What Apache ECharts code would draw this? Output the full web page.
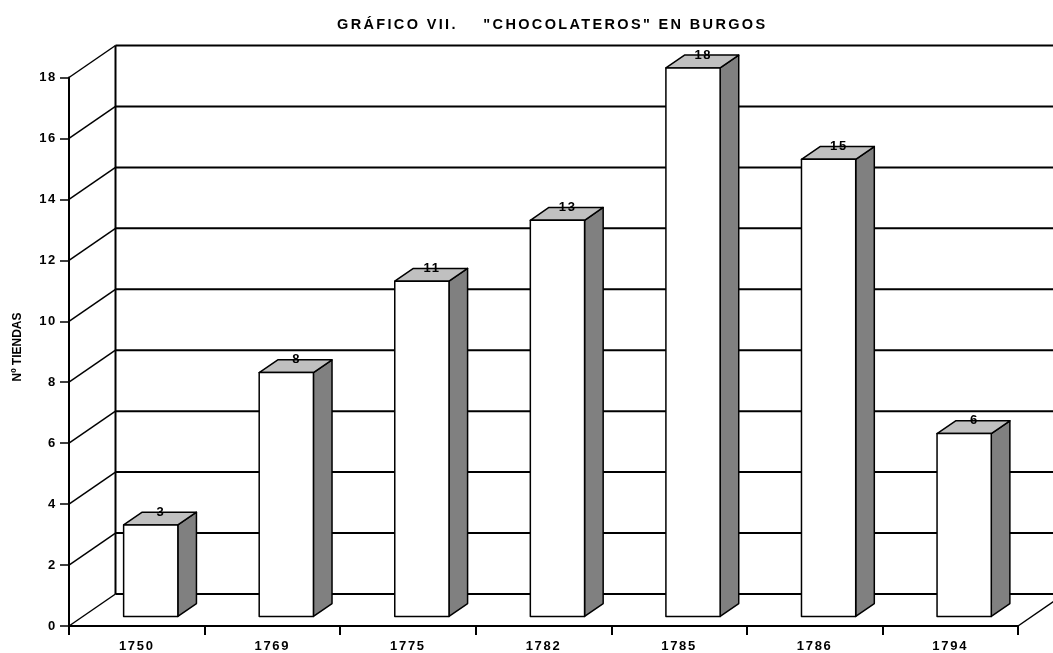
<!DOCTYPE html>
<html>
<head>
<meta charset="utf-8">
<script src="https://cdn.jsdelivr.net/npm/echarts@6/dist/echarts.min.js"></script>
<style>
  html, body { margin: 0; padding: 0; background: #fff; }
  #chart { width: 1053px; height: 653px; }
</style>
</head>
<body>
<div id="chart"></div>
<script>
// Chocolate makers' shops in Burgos, by year
const years = ['1750', '1769', '1775', '1782', '1785', '1786', '1794'];
const shops = [3, 8, 11, 13, 18, 15, 6];
const yTicks = [0, 2, 4, 6, 8, 10, 12, 14, 16, 18];

// Wide-tracked labels: extra letter spacing (px) by font size.
// Text whose family list ends in sans-serif is drawn with normal tracking.
const SPACED = 'Liberation Sans';
const PLAIN = 'Liberation Sans, sans-serif';
const TRACKING = { '14.5': 2.35, '13': 1.7 };
(function () {
  const proto = CanvasRenderingContext2D.prototype;
  const fill = proto.fillText;
  proto.fillText = function (t, x, y, m) {
    const f = this.font || '';
    const mm = f.match(/([\d.]+)px/);
    const size = mm ? String(parseFloat(mm[1])) : '';
    const sp = f.indexOf('sans-serif') >= 0 ? 0 : (TRACKING[size] || 0);
    this.letterSpacing = sp + 'px';
    return m === undefined ? fill.call(this, t, x, y) : fill.call(this, t, x, y, m);
  };
})();

// Perspective offset from the front plane to the back wall (px)
const DEPTH_X = 46.5, DEPTH_Y = -32;
// Where each bar sits in the depth of the box (0 = front, 1 = back)
const BAR_NEAR = 0.3, BAR_FAR = 0.7;
// Bar width as a share of the category band
const BAR_WIDTH = 0.4;

const chart = echarts.init(document.getElementById('chart'), null, { renderer: 'canvas' });

// Back wall, its gridlines and the slanted lines on the left wall and floor
function renderWalls(params, api) {
  const cs = params.coordSys;
  const x0 = cs.x, x1 = cs.x + cs.width;
  const kids = [];
  const line = (a, b, w) => kids.push({
    type: 'line',
    shape: { x1: a[0], y1: a[1], x2: b[0], y2: b[1] },
    style: { stroke: '#000', lineWidth: w }
  });
  const yBase = api.coord([0, 0])[1];
  const yTop = api.coord([0, yTicks[yTicks.length - 1]])[1];
  line([x0 + DEPTH_X, yBase + DEPTH_Y], [x0 + DEPTH_X, yTop + DEPTH_Y], 2);
  yTicks.forEach(v => {
    const y = api.coord([0, v])[1];
    line([x0 + DEPTH_X, y + DEPTH_Y], [x1 + DEPTH_X, y + DEPTH_Y], 2);
    line([x0, y], [x0 + DEPTH_X, y + DEPTH_Y], 1.5);
  });
  line([x1, yBase], [x1 + DEPTH_X, yBase + DEPTH_Y], 1.5);
  return { type: 'group', children: kids };
}

// A box-shaped bar: white front, light grey top, dark grey side
function renderBar(params, api) {
  const i = api.value(0), v = api.value(1);
  const top = api.coord([i, v]);
  const base = api.coord([i, 0]);
  const band = api.size([1, 0])[0];
  const w = band * BAR_WIDTH;
  const ox = DEPTH_X * BAR_NEAR, oy = DEPTH_Y * BAR_NEAR;
  const dx = DEPTH_X * (BAR_FAR - BAR_NEAR), dy = DEPTH_Y * (BAR_FAR - BAR_NEAR);
  const L = top[0] - w / 2 + ox, R = top[0] + w / 2 + ox;
  const T = top[1] + oy, B = base[1] + oy;
  const edge = { stroke: '#000', lineWidth: 1.5, lineJoin: 'round' };
  return {
    type: 'group',
    children: [
      { type: 'polygon', shape: { points: [[R, T], [R + dx, T + dy], [R + dx, B + dy], [R, B]] },
        style: Object.assign({ fill: '#808080' }, edge) },
      { type: 'polygon', shape: { points: [[L, T], [R, T], [R + dx, T + dy], [L + dx, T + dy]] },
        style: Object.assign({ fill: '#c0c0c0' }, edge) },
      { type: 'rect', shape: { x: L, y: T, width: R - L, height: B - T },
        style: Object.assign({ fill: '#ffffff' }, edge) },
      { type: 'text', x: (L + R) / 2 + dx / 2 + 1, y: T + dy,
        style: { text: String(v), fill: '#000', align: 'center', verticalAlign: 'middle',
                 fontFamily: SPACED, fontWeight: 'bold', fontSize: 13 } }
    ]
  };
}

const option = {
  animation: false,
  backgroundColor: '#fff',
  title: {
    text: 'GRÁFICO VII.    "CHOCOLATEROS" EN BURGOS',
    left: 337, top: 17.5, padding: 0,
    textStyle: { fontFamily: SPACED, fontWeight: 'bold', fontSize: 14.5, color: '#000' }
  },
  graphic: [{
    type: 'text', x: 18, y: 347, rotation: Math.PI / 2,
    style: { text: 'Nº TIENDAS', fill: '#000', align: 'center', verticalAlign: 'middle',
             fontFamily: PLAIN, fontWeight: 'bold', fontSize: 12 }
  }],
  grid: { left: 69, right: 35, top: 77.5, bottom: 26.5, containLabel: false },
  xAxis: {
    type: 'category',
    data: years,
    boundaryGap: true,
    axisLine: { lineStyle: { color: '#000', width: 2 } },
    axisTick: { show: true, length: 9, lineStyle: { color: '#000', width: 2 } },
    axisLabel: { margin: 14, color: '#000', fontFamily: SPACED, fontWeight: 'bold', fontSize: 13 },
    splitLine: { show: false }
  },
  yAxis: {
    type: 'value',
    min: 0, max: 18, interval: 2,
    axisLine: { show: true, lineStyle: { color: '#000', width: 2 } },
    axisTick: { show: true, length: 9, lineStyle: { color: '#000', width: 1.5 } },
    axisLabel: { margin: 12, color: '#000', fontFamily: SPACED, fontWeight: 'bold', fontSize: 13 },
    splitLine: { show: false }
  },
  series: [
    {
      type: 'custom',
      silent: true,
      clip: false,
      renderItem: renderWalls,
      data: [[0, 0]],
      encode: { x: 0, y: 1 },
      z: 1
    },
    {
      type: 'custom',
      clip: false,
      renderItem: renderBar,
      data: shops.map((v, i) => [i, v]),
      encode: { x: 0, y: 1 },
      z: 2
    }
  ]
};

chart.setOption(option);
</script>
</body>
</html>
